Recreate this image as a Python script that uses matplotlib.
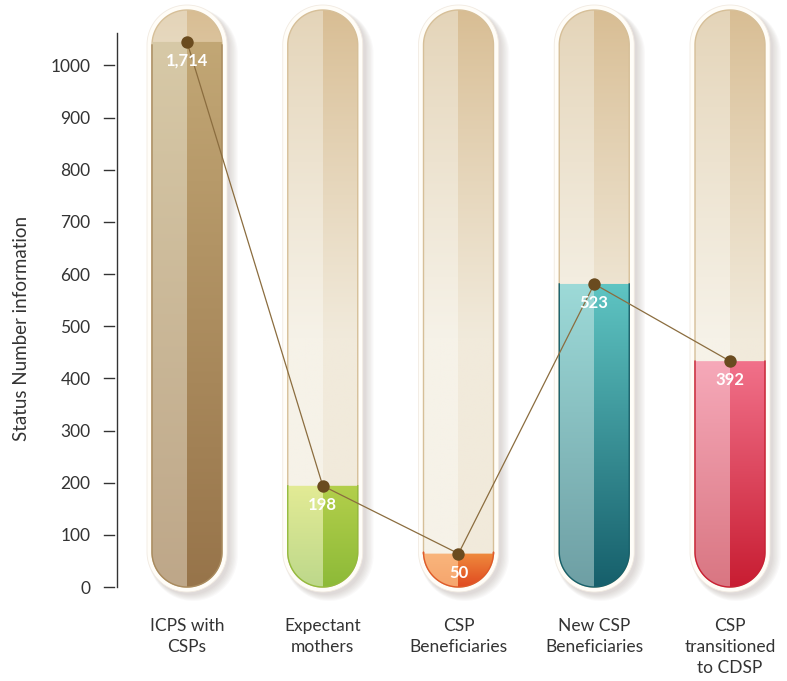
import numpy as np
import matplotlib.pyplot as plt
from matplotlib.path import Path
from matplotlib.patches import PathPatch
from matplotlib.colors import to_rgb

plt.rcParams['font.family'] = ['Lato', 'DejaVu Sans']

# data
categories = ["ICPS with\nCSPs", "Expectant\nmothers", "CSP\nBeneficiaries",
              "New CSP\nBeneficiaries", "CSP\ntransitioned\nto CDSP"]
values = [1714, 198, 50, 523, 392]
levels = [1045, 194, 64, 581, 433]   # fill height of each tube as drawn
yticks = list(range(0, 1001, 100))

# liquid colours: left top, left bottom, right top, right bottom
liquid_colors = [
    ("#d7c9a7", "#bea789", "#c2a775", "#97744a"),
    ("#e3eb95", "#bdd88b", "#b3cf4b", "#8dba38"),
    ("#f9b57c", "#f6a56d", "#ef8a3d", "#e04a20"),
    ("#9ddad8", "#6e9fa4", "#5fc5c3", "#165f6b"),
    ("#f6a9b9", "#d97682", "#f1718a", "#c81d32"),
]
outline_colors = ["#a88a5e", "#94bb3c", "#e05a28", "#17606b", "#c92035"]
empty_top = ("#e4d4b8", "#d8bd93")
empty_bottom = ("#f6f2e8", "#f1eadb")
fade_to = 480   # empty glass reaches its light colour at this height

# pixel scale helpers (figure is 787 x 681 px)
W, H = 787, 681
x_left_px, x0_px, step_px = 117, 187, 135.75
y0_px, py_per_unit = 587, 0.5216
px_x = 1 / step_px
px_y = 1 / py_per_unit

fig = plt.figure(figsize=(W / 100, H / 100), dpi=100)
ax = fig.add_axes([x_left_px / W, 0, (W - x_left_px) / W, 1])
xlim = (-(x0_px - x_left_px) / step_px, (W - x0_px) / step_px)
ylim = (-(H - y0_px) / py_per_unit, y0_px / py_per_unit)


def capsule(xc, yb, yt, rx, ry, n=80):
    t = np.linspace(np.pi, 2 * np.pi, n)
    bx, by = xc + rx * np.cos(t), yb + ry + ry * np.sin(t)
    t2 = np.linspace(0, np.pi, n)
    tx, ty = xc + rx * np.cos(t2), yt - ry + ry * np.sin(t2)
    return np.concatenate([bx, tx]), np.concatenate([by, ty])


def make_patch(xs, ys, **kw):
    verts = np.column_stack([xs, ys])
    verts = np.vstack([verts, verts[:1]])
    codes = [Path.MOVETO] + [Path.LINETO] * (len(verts) - 2) + [Path.CLOSEPOLY]
    return PathPatch(Path(verts, codes), transform=ax.transData, **kw)


def gradient(c_top, c_bot, t):
    a, b = np.array(to_rgb(c_top)), np.array(to_rgb(c_bot))
    t = np.clip(t, 0, 1)[:, None]
    return (a * (1 - t) + b * t)[:, None, :]


rx = 35 * px_x
ry = 35 * px_y
tube_top = (y0_px - 10) / py_per_unit
border = 5

for i, (lev, cols) in enumerate(zip(levels, liquid_colors)):
    xc = i
    # soft shadow
    for k in range(7):
        sx, sy = capsule(xc + (3 + k * 0.5) * px_x, -(border + 3 + k) * px_y,
                         tube_top + (border - 3) * px_y,
                         rx + (border + k * 0.8) * px_x, ry + (border + k) * px_y)
        ax.add_patch(make_patch(sx, sy, facecolor="#7d6a60", alpha=0.035,
                                edgecolor="none", zorder=1))
    # white glass border
    ox, oy = capsule(xc, -border * px_y, tube_top + border * px_y,
                     rx + border * px_x, ry + border * px_y)
    ax.add_patch(make_patch(ox, oy, facecolor="#fffdf8", edgecolor="#f1eae1",
                            lw=0.6, zorder=2))

    xs, ys = capsule(xc, 0, tube_top, rx, ry)
    tube_clip = make_patch(xs, ys, facecolor="none")
    hv = np.linspace(tube_top, 0, 300)
    tt = ((tube_top - hv) / (tube_top - fade_to)) ** 0.9
    for side, (x_a, x_b) in enumerate([(xc - rx, xc), (xc, xc + rx)]):
        im = ax.imshow(gradient(empty_top[side], empty_bottom[side], tt),
                       extent=(x_a, x_b, 0, tube_top), aspect="auto", zorder=3)
        im.set_clip_path(tube_clip)
    ax.add_patch(make_patch(xs, ys, facecolor="none", edgecolor="#d6bf98",
                            lw=1.0, zorder=4))

    # liquid
    liq_clip = make_patch(xs, np.minimum(ys, lev), facecolor="none")
    for side, (x_a, x_b) in enumerate([(xc - rx, xc), (xc, xc + rx)]):
        im = ax.imshow(gradient(cols[2 * side], cols[2 * side + 1],
                                np.linspace(0, 1, 200)),
                       extent=(x_a, x_b, 0, lev), aspect="auto", zorder=5)
        im.set_clip_path(liq_clip)
    side_top = min(lev, tube_top - ry)
    t = np.linspace(np.pi, 2 * np.pi, 80)
    lx = np.concatenate([[xc - rx], xc + rx * np.cos(t), [xc + rx]])
    ly = np.concatenate([[side_top], ry + ry * np.sin(t), [side_top]])
    ax.plot(lx, ly, color=outline_colors[i], lw=1.0, zorder=6)

# connecting line and markers
xpos = np.arange(len(categories))
ax.plot(xpos, levels, color="#8b6d3f", lw=0.9, zorder=7)
ax.scatter(xpos, levels, s=80, color="#6a4b1f", zorder=8, linewidths=0)

for i, (lev, v) in enumerate(zip(levels, values)):
    ax.annotate(f"{v:,}", (i, lev), xytext=(0, -19), textcoords="offset pixels",
                ha="center", va="center", color="white", fontsize=12,
                fontweight="bold", zorder=9)
    ax.text(i, -(618 - y0_px) * px_y, categories[i], ha="center", va="top",
            fontsize=12.5, color="#333333", linespacing=1.38)

# y axis
ax.set_xlim(*xlim)
ax.set_ylim(*ylim)
for s in ["top", "right", "bottom"]:
    ax.spines[s].set_visible(False)
ax.spines["left"].set_bounds(0, (y0_px - 33) / py_per_unit)
ax.spines["left"].set_color("#333333")
ax.spines["left"].set_linewidth(1)
ax.set_xticks([])
ax.set_yticks(yticks)
ax.tick_params(axis="y", length=0, pad=19, labelsize=12.5, labelcolor="#333333")
for yt in yticks:
    ax.plot([(104 - x0_px) * px_x, (114 - x0_px) * px_x], [yt, yt],
            color="#333333", lw=1, clip_on=False)
ax.patch.set_alpha(0)

fig.text(22 / W, 1 - 328 / H, "Status Number information", rotation=90,
         ha="center", va="center", fontsize=13.5, color="#333333")

fig.savefig("out.png", dpi=100)
